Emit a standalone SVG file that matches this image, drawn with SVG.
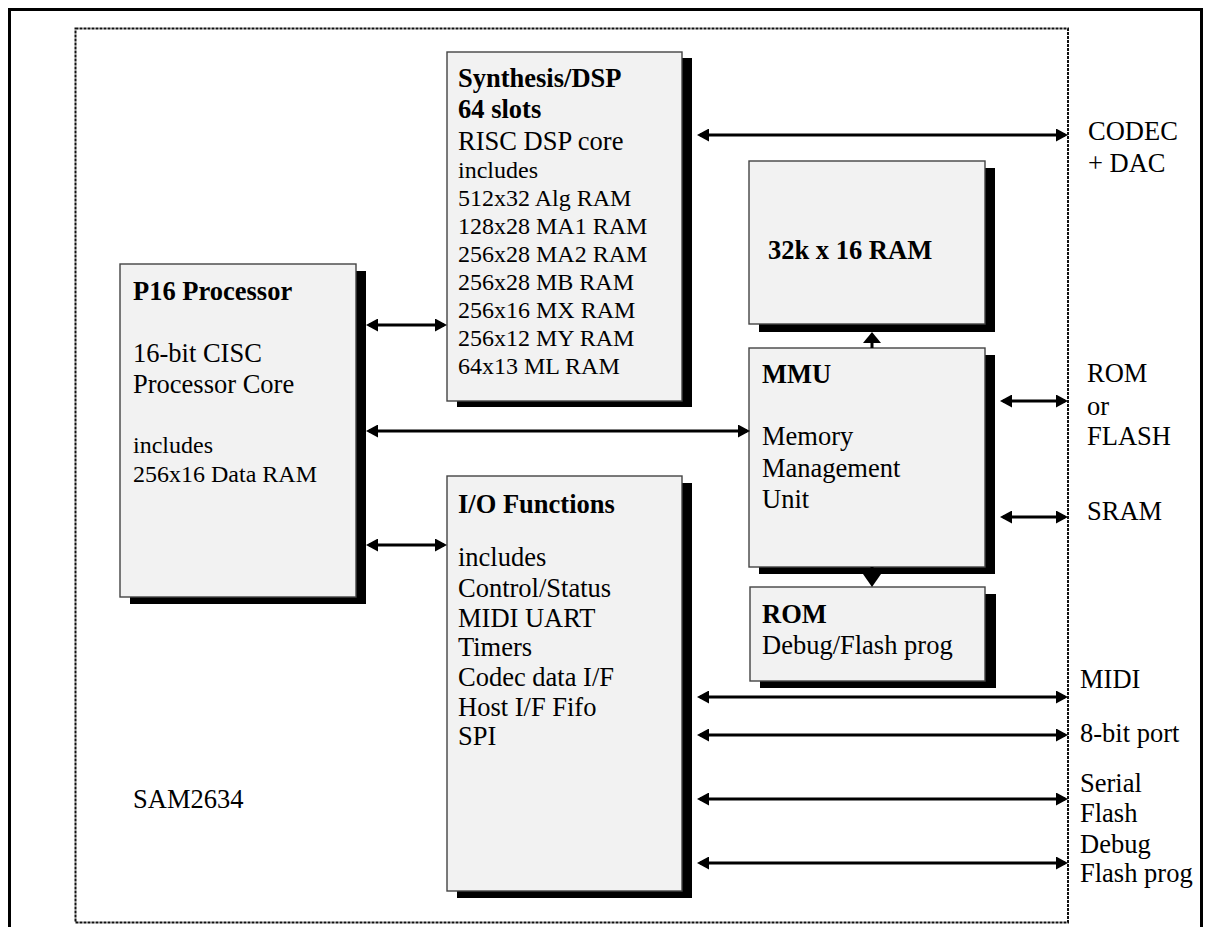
<svg xmlns="http://www.w3.org/2000/svg" width="1206" height="927" viewBox="0 0 1206 927">
<style>
text{font-family:"Liberation Serif","Times New Roman",serif;fill:#000;font-size:26.5px}
.b{font-weight:bold}
.s{font-size:24px}
.box{fill:#f2f2f2;stroke:#444;stroke-width:1.4}
.sh{fill:#000}
.c{stroke:#000;stroke-width:3;fill:none}
</style>
<defs>
<marker id="ah" viewBox="0 0 12 13" refX="9" refY="6.5" markerWidth="12" markerHeight="13" markerUnits="userSpaceOnUse" orient="auto-start-reverse"><path d="M0,0 L12,6.5 L0,13 z" fill="#000"/></marker>
<marker id="au" viewBox="0 0 11 18" refX="8" refY="9" markerWidth="11" markerHeight="18" markerUnits="userSpaceOnUse" orient="auto"><path d="M0,0 L11,9 L0,18 z" fill="#000"/></marker>
<marker id="ad" viewBox="0 0 13 18" refX="10" refY="9" markerWidth="13" markerHeight="18" markerUnits="userSpaceOnUse" orient="auto"><path d="M0,0 L13,9 L0,18 z" fill="#000"/></marker>
</defs>
<rect width="1206" height="927" fill="#fff"/>
<path d="M9.5,930 V9.5 H1201.5 V930" fill="none" stroke="#000" stroke-width="3"/>
<rect x="75.5" y="28.5" width="992.5" height="894" fill="none" stroke="#111" stroke-width="2" stroke-dasharray="3 1"/>
<text x="133" y="808">SAM2634</text>

<g id="p16">
<rect class="sh" x="130" y="271" width="236" height="333"/>
<rect class="box" x="120" y="264" width="236" height="333"/>
<text class="b" x="133" y="300">P16 Processor</text>
<text x="133" y="362">16-bit CISC</text>
<text x="133" y="393">Processor Core</text>
<text class="s" x="133" y="453">includes</text>
<text class="s" x="133" y="482">256x16 Data RAM</text>
</g>

<g id="synth">
<rect class="sh" x="457" y="58" width="235" height="349"/>
<rect class="box" x="447" y="52" width="235" height="349"/>
<text class="b" x="458" y="87">Synthesis/DSP</text>
<text class="b" x="458" y="118">64 slots</text>
<text x="458" y="150">RISC DSP core</text>
<text class="s" x="458" y="178">includes</text>
<text class="s" x="458" y="206">512x32 Alg RAM</text>
<text class="s" x="458" y="234">128x28 MA1 RAM</text>
<text class="s" x="458" y="262">256x28 MA2 RAM</text>
<text class="s" x="458" y="290">256x28 MB RAM</text>
<text class="s" x="458" y="318">256x16 MX RAM</text>
<text class="s" x="458" y="346">256x12 MY RAM</text>
<text class="s" x="458" y="374">64x13 ML RAM</text>
</g>

<g id="io">
<rect class="sh" x="457" y="483" width="235" height="415"/>
<rect class="box" x="447" y="476" width="235" height="415"/>
<text class="b" x="458" y="513">I/O Functions</text>
<text x="458" y="566">includes</text>
<text x="458" y="597">Control/Status</text>
<text x="458" y="627">MIDI UART</text>
<text x="458" y="656">Timers</text>
<text x="458" y="686">Codec data I/F</text>
<text x="458" y="716">Host I/F Fifo</text>
<text x="458" y="745">SPI</text>
</g>

<g id="ram">
<rect class="sh" x="759" y="168" width="236" height="164"/>
<rect class="box" x="749" y="161" width="236" height="163"/>
<text class="b" x="768" y="259">32k x 16 RAM</text>
</g>

<g id="mmu">
<rect class="sh" x="759" y="355" width="236" height="219"/>
<rect class="box" x="749" y="348" width="236" height="219"/>
<text class="b" x="762" y="383">MMU</text>
<text x="762" y="445">Memory</text>
<text x="762" y="477">Management</text>
<text x="762" y="508">Unit</text>
</g>

<g id="rom">
<rect class="sh" x="760" y="594" width="236" height="94"/>
<rect class="box" x="750" y="587" width="235" height="94"/>
<text class="b" x="762" y="623">ROM</text>
<text x="762" y="654">Debug/Flash prog</text>
</g>

<g id="labels">
<text x="1088" y="140">CODEC</text>
<text x="1088" y="172">+ DAC</text>
<text x="1087" y="382">ROM</text>
<text x="1087" y="415">or</text>
<text x="1087" y="445">FLASH</text>
<text x="1087" y="520">SRAM</text>
<text x="1080" y="688">MIDI</text>
<text x="1080" y="742">8-bit port</text>
<text x="1080" y="792">Serial</text>
<text x="1080" y="822">Flash</text>
<text x="1080" y="853">Debug</text>
<text x="1080" y="882">Flash prog</text>
</g>

<g id="connectors">
<path class="c" d="M700,135 H1065" marker-start="url(#ah)" marker-end="url(#ah)"/>
<path class="c" d="M369,325 H444" marker-start="url(#ah)" marker-end="url(#ah)"/>
<path class="c" d="M369,431 H747" marker-start="url(#ah)" marker-end="url(#ah)"/>
<path class="c" d="M369,545 H444" marker-start="url(#ah)" marker-end="url(#ah)"/>
<path class="c" d="M1003,401 H1065" marker-start="url(#ah)" marker-end="url(#ah)"/>
<path class="c" d="M1003,517 H1065" marker-start="url(#ah)" marker-end="url(#ah)"/>
<path class="c" d="M700,697 H1065" marker-start="url(#ah)" marker-end="url(#ah)"/>
<path class="c" d="M700,735 H1065" marker-start="url(#ah)" marker-end="url(#ah)"/>
<path class="c" d="M700,799 H1065" marker-start="url(#ah)" marker-end="url(#ah)"/>
<path class="c" d="M700,863 H1065" marker-start="url(#ah)" marker-end="url(#ah)"/>
<path class="c" d="M872,348 V335" marker-end="url(#au)"/>
<path class="c" d="M872,567 V584" marker-end="url(#ad)"/>
</g>
</svg>
